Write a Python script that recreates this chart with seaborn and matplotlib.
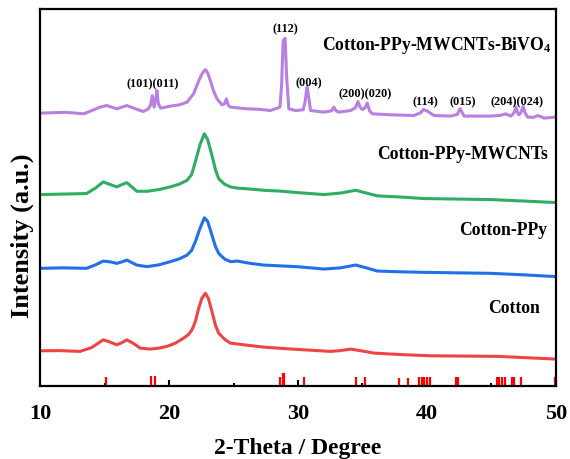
import matplotlib
matplotlib.use("Agg")
import matplotlib.pyplot as plt
import seaborn as sns
import pandas as pd
from matplotlib.ticker import MultipleLocator

# ---------------- data (arbitrary intensity units) -------------
red_x = [10.0, 11.5, 13.1, 14.0, 14.9, 15.45, 15.95, 16.35, 16.73, 17.2, 17.77, 18.54, 19.2, 19.84,
         20.5, 21.13, 21.5, 21.78, 22.05, 22.3, 22.55, 22.82, 23.05, 23.33, 23.6, 23.85, 24.3, 24.76,
         26.0, 27.35, 29.0, 30.45, 32.52, 33.3, 34.08, 34.8, 35.9, 38.0, 40.3, 43.0, 45.5, 47.5, 50.0]
red_y = [35.3, 35.5, 34.7, 38.5, 46.3, 44.0, 41.3, 43.5, 46.3, 43.0, 38.0, 37.0, 38.0, 39.7,
         43.0, 48.0, 51.5, 56.3, 65.0, 78.0, 88.0, 93.0, 88.0, 74.7, 61.0, 53.0, 47.0, 43.0,
         41.0, 39.0, 37.5, 36.3, 34.7, 35.5, 37.0, 35.5, 33.0, 31.5, 30.3, 30.0, 29.7, 28.5, 27.0]

bg_x = [10.0, 11.8, 13.6, 14.3, 14.9, 15.45, 15.95, 16.35, 16.73, 17.5, 18.3, 19.2, 20.1, 20.8,
        21.4, 21.75, 22.04, 22.4, 22.74, 23.0, 23.33, 23.6, 23.85, 24.3, 24.76, 25.3, 26.3, 27.35,
        28.6, 29.9, 31.0, 32.0, 33.3, 34.47, 35.3, 36.15, 38.0, 39.77, 42.3, 44.95, 47.5, 50.0]
blue_y = [118, 118.5, 118, 121.5, 125.3, 124.5, 123, 124.5, 126.3, 121.3, 119.7, 121.5, 124.7, 127.5,
          131.3, 136, 144.7, 158, 168.7, 165, 151.3, 140, 133, 127.5, 124.7, 125.3, 123, 121.3,
          120.5, 119.7, 118.5, 117.3, 118.5, 121.3, 118.5, 115.3, 114.5, 114, 113.5, 113, 111.5, 109.7]
green_y = [192, 192.5, 193, 198.5, 204.7, 202, 199.7, 202, 204, 195.3, 195.3, 197, 199.7, 202.5,
           206.3, 212, 224.7, 242, 253, 247, 231.3, 217, 208, 202.5, 199.7, 198.5, 197.5, 196.3,
           195.5, 194, 193, 192, 193.5, 196.3, 193.5, 190.7, 189.5, 188, 187.5, 187, 185.5, 184]

purple_x = [10.0, 12.0, 13.4, 14.66, 15.18, 15.95, 16.73, 17.4, 18.0, 18.4, 18.58, 18.7, 18.85, 18.95,
            19.06, 19.18, 19.35, 20.1, 20.8, 21.4, 21.9, 22.37, 22.6, 22.82, 23.0, 23.2, 23.45, 23.72,
            24.1, 24.3, 24.45, 24.6, 24.76, 26.05, 27.0, 27.86, 28.6, 28.72, 28.85, 29.0, 29.12, 29.29,
            29.8, 30.4, 30.55, 30.7, 30.85, 30.97, 32.0, 32.6, 32.78, 32.95, 33.17, 34.08, 34.45, 34.65,
            34.8, 34.98, 35.2, 35.37, 35.55, 35.76, 37.18, 38.99, 39.5, 39.72, 40.03, 40.55, 41.84, 42.35,
            42.57, 42.88, 44.95, 45.7, 46.1, 46.5, 46.75, 46.9, 47.05, 47.15, 47.3, 47.46, 47.6, 47.8,
            48.3, 48.58, 48.85, 49.09, 50.0]
purple_y = [273.7, 274.5, 273, 279.7, 281.3, 278, 281.3, 278, 275.3, 278, 282, 291.3, 279.7, 286,
            296.3, 283, 278.7, 280.7, 282, 284.7, 293, 308, 314, 317.3, 314, 306.3, 296, 288,
            282, 283, 288, 281.5, 279.7, 278, 277.5, 276.3, 279.7, 300, 346, 348.7, 310, 278,
            276.3, 277, 285, 300.3, 288, 276.3, 274.7, 276, 279.7, 276, 274.7, 276.3, 279, 285.3,
            280, 277.3, 279, 283.7, 276, 273, 272, 271.3, 274, 277.3, 275.7, 271.3, 270.7, 272.5,
            278, 270.7, 270.7, 271.5, 273, 270.7, 274, 279.7, 273, 272, 275, 280.3, 274, 269.7,
            269.5, 271.3, 270, 268.7, 269.7]

# reference pattern (red sticks at the bottom)
stick_x = [15.12, 18.6, 18.91, 28.6, 28.8, 28.91, 30.47, 34.5, 35.2, 37.83, 38.5, 39.4, 39.6, 39.8,
           40.0, 40.23, 42.25, 42.4, 45.4, 45.58, 45.79, 46.05, 46.57, 46.74, 47.26, 49.95]
stick_h = [9, 10, 10, 9, 13, 13, 9, 9, 9, 8, 8, 9, 9, 9,
           9, 9, 9, 9, 9, 9, 9, 9, 9, 9, 9, 9]

series_names = ["Cotton", "Cotton-PPy", "Cotton-PPy-MWCNTs", "Cotton-PPy-MWCNTs-BiVO$_4$"]
series_colors = ["#f04444", "#2070ea", "#2fae62", "#b880e2"]
name_x = [48.8, 49.35, 49.4, 49.6]
name_y = [79, 157, 233, 343]

hkl_labels = ["(101)(011)", "(112)", "(004)", "(200)(020)", "(114)", "(015)", "(204)(024)"]
hkl_x = [18.75, 29.0, 30.8, 35.2, 39.85, 42.8, 46.95]
hkl_y = [304, 359, 304.5, 294, 286, 286, 286]

x_ticks = [10, 20, 30, 40, 50]

# ---------------- drawing ----------------
sns.set_style("ticks")
plt.rcParams["font.family"] = ["Liberation Serif", "DejaVu Serif"]
plt.rcParams["font.weight"] = "bold"
plt.rcParams["text.color"] = "black"
plt.rcParams["axes.labelcolor"] = "black"
plt.rcParams["xtick.color"] = "black"
plt.rcParams["mathtext.fontset"] = "custom"
plt.rcParams["mathtext.rm"] = "Liberation Serif:bold"
plt.rcParams["mathtext.bf"] = "Liberation Serif:bold"
plt.rcParams["mathtext.it"] = "Liberation Serif:bold"
plt.rcParams["mathtext.default"] = "bf"

fig = plt.figure(figsize=(5.7, 4.6), dpi=100)
ax = fig.add_axes([0.0702, 0.1587, 0.9052, 0.8193])

curves = [(red_x, red_y), (bg_x, blue_y), (bg_x, green_y), (purple_x, purple_y)]
for (xs, ys), col in zip(curves, series_colors):
    df = pd.DataFrame({"x": xs, "y": ys})
    sns.lineplot(data=df, x="x", y="y", ax=ax, color=col, lw=2.2, sort=False, estimator=None)

ax.vlines(stick_x, 0, stick_h, colors="#ff0000", lw=1.6)

for name, col, nx, ny in zip(series_names, series_colors, name_x, name_y):
    ax.text(nx, ny, name, ha="right", va="center", fontsize=12.7, fontweight="bold", color="black")

for lab, hx, hy in zip(hkl_labels, hkl_x, hkl_y):
    ax.text(hx, hy, lab, ha="center", va="center", fontsize=8.8, fontweight="bold", color="black")

ax.set_xlim(10, 50)
ax.set_ylim(0, 378)
ax.set_xticks(x_ticks)
ax.set_xticklabels([str(t) for t in x_ticks], fontsize=16, fontweight="bold", color="black")
ax.xaxis.set_minor_locator(MultipleLocator(5))
ax.set_yticks([])
ax.tick_params(axis="x", which="major", direction="in", length=4.5, width=1.5, pad=12, color="black")
ax.tick_params(axis="x", which="minor", direction="in", length=2.2, width=1.5, color="black")
for sp in ax.spines.values():
    sp.set_visible(True)
    sp.set_linewidth(1.6)
    sp.set_color("black")

ax.set_xlabel("2-Theta / Degree", fontsize=17, fontweight="bold", color="black")
ax.set_ylabel("Intensity (a.u.)", fontsize=19, fontweight="bold", color="black")
ax.xaxis.set_label_coords(0.5, -0.135)
ax.yaxis.set_label_coords(-0.012, 0.4)

fig.savefig("out.png", dpi=100)
